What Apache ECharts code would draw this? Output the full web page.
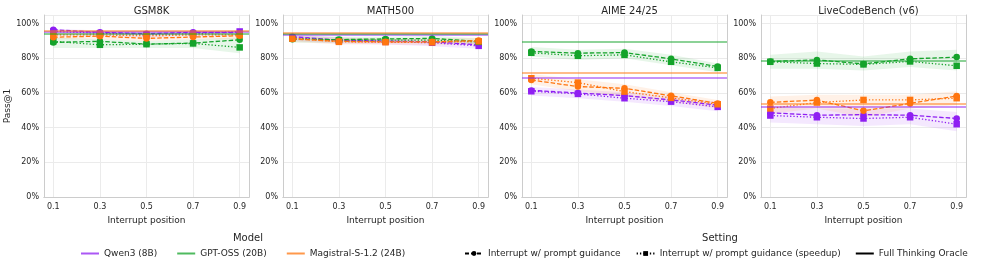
<!DOCTYPE html>
<html><head><meta charset="utf-8">
<script src="https://cdn.jsdelivr.net/npm/echarts@6/dist/echarts.min.js"></script>
<style>html,body{margin:0;padding:0;background:#fff}#c{width:997px;height:263px}</style>
</head><body><div id="c"></div>
<script>
const xs = [0.1, 0.3, 0.5, 0.7, 0.9];
const panels = ['GSM8K', 'MATH500', 'AIME 24/25', 'LiveCodeBench (v6)'];
const models = ['Qwen3 (8B)', 'GPT-OSS (20B)', 'Magistral-S-1.2 (24B)'];
const settings = ['Interrupt w/ prompt guidance', 'Interrupt w/ prompt guidance (speedup)', 'Full Thinking Oracle'];
const yTicks = [0, 20, 40, 60, 80, 100];

// values per panel: GSM8K, MATH500, AIME, LCB
const qwenDash  = [[96.5,95.0,94.2,95.0,94.8],[92.5,90.5,90.0,89.5,87.8],[61.5,60.0,58.5,56.0,53.0],[48.6,47.2,47.5,47.2,45.3]];
const qwenSpeed = [[95.5,94.5,93.8,94.2,95.5],[92.0,90.0,89.5,89.0,87.2],[61.0,59.5,57.0,55.0,52.0],[47.0,46.0,45.3,46.0,42.0]];
const qwenOracle = [95.3, 93.6, 68.9, 52.1];
const qwenLo = [[93,93,92,93,93],[90,88.5,88,87,85.5],[58.5,57,55,52.5,49.5],[43,42,41,42,38]];
const qwenHi = [[97,96,96,96,96],[94,92,91,91,89.5],[63.5,62,60.5,58,55],[52,51,51,51,49]];

const gptDash  = [[89.2,89.8,88.2,88.8,90.7],[91.0,90.8,91.2,91.5,89.8],[84.0,83.0,83.3,79.7,75.3],[78.2,79.1,76.8,79.7,80.7]];
const gptSpeed = [[89.8,87.8,88.2,88.6,86.3],[91.5,90.5,90.5,90.5,89.5],[83.2,81.5,82.0,78.0,74.5],[78.0,77.0,76.5,78.2,75.7]];
const gptOracle = [94.2, 94.0, 89.4, 78.7];
const gptLo = [[86,86,86,86,83],[89,89,89.5,89.5,88],[81,79,80,76,72],[74,74,73,75,73]];
const gptHi = [[92,91,90,91,92],[93,92.5,92.5,93,91.5],[86.5,85,85.5,82,77],[82,84,81,84,85]];

const magDash  = [[92.2,92.8,91.5,92.3,93.0],[91.2,89.8,89.5,89.5,90.3],[67.5,63.7,62.7,58.4,54.0],[54.6,55.9,49.7,54.0,58.3]];
const magSpeed = [[93.5,93.5,93.0,93.5,93.5],[91.5,89.5,89.3,89.2,89.8],[68.5,66.0,60.8,57.2,53.5],[51.1,54.5,56.0,56.0,57.0]];
const magOracle = [95.9, 94.6, 71.8, 53.6];
const magLo = [[91,91,90,91,91],[89.5,88,88,87.5,88],[65,61,58,55,51],[48,51,46,51,53]];
const magHi = [[95,95,94,95,95],[93,92,91.5,91.5,92],[71,68,65,60.5,56],[58,59,59,59,61]];

const colors = ['#8f1ff2', '#14a32a', '#ff750f'];
const modelData = [
  {dash: qwenDash, speed: qwenSpeed, oracle: qwenOracle, lo: qwenLo, hi: qwenHi},
  {dash: gptDash, speed: gptSpeed, oracle: gptOracle, lo: gptLo, hi: gptHi},
  {dash: magDash, speed: magSpeed, oracle: magOracle, lo: magLo, hi: magHi}
];

const FONT = 'DejaVu Sans';
const TXT = '#262626';
const grids = [], xAxes = [], yAxes = [], series = [], titles = [];
const gl = [44, 283, 522, 761], gw = 205;
panels.forEach((p, i) => {
  grids.push({left: gl[i], top: 15, width: gw, height: 182, show: false});
  titles.push({text: p, left: gl[i] + gw / 2, top: 1, textAlign: 'center',
    textStyle: {fontFamily: FONT, fontSize: 10, fontWeight: 'normal', color: TXT}});
  xAxes.push({type: 'value', gridIndex: i, min: 0.06, max: 0.94,
    name: 'Interrupt position', nameLocation: 'middle', nameGap: 16,
    nameTextStyle: {fontFamily: FONT, fontSize: 9, color: TXT},
    axisLine: {show: true, onZero: false, lineStyle: {color: '#cccccc', width: 1}},
    axisTick: {show: false, customValues: xs},
    axisLabel: {customValues: xs, fontFamily: FONT, fontSize: 8, color: TXT, margin: 6, formatter: v => v.toFixed(1)},
    splitLine: {show: true, lineStyle: {color: '#ebebeb', width: 1}}});
  yAxes.push({type: 'value', gridIndex: i, min: 0, max: 105, interval: 20,
    name: i === 0 ? 'Pass@1' : '', nameLocation: 'middle', nameGap: 30,
    nameTextStyle: {fontFamily: FONT, fontSize: 9, color: TXT},
    axisLine: {show: true, lineStyle: {color: '#cccccc', width: 1}},
    axisTick: {show: false},
    axisLabel: {fontFamily: FONT, fontSize: 8, color: TXT, margin: 5,
      formatter: v => yTicks.includes(v) ? v + '%' : ''},
    splitLine: {show: true, lineStyle: {color: '#ebebeb', width: 1}}});
  // frame top/right via extra axes
  xAxes.push({type: 'value', gridIndex: i, position: 'top', min: 0, max: 1,
    axisLine: {show: true, lineStyle: {color: '#cccccc'}}, axisTick: {show: false}, axisLabel: {show: false}, splitLine: {show: false}});
  yAxes.push({type: 'value', gridIndex: i, position: 'right', min: 0, max: 1,
    axisLine: {show: true, lineStyle: {color: '#cccccc'}}, axisTick: {show: false}, axisLabel: {show: false}, splitLine: {show: false}});

  const xi = i * 2, yi = i * 2;
  modelData.forEach((m, k) => {
    const c = colors[k];
    const lo = m.lo[i], hi = m.hi[i];
    series.push({type: 'custom', xAxisIndex: xi, yAxisIndex: yi, silent: true, z: 1,
      data: [[xs[0], lo[0]]],
      renderItem: (params, api) => {
        const top = xs.map((x, j) => api.coord([x, hi[j]]));
        const bot = xs.map((x, j) => api.coord([x, lo[j]])).reverse();
        return {type: 'polygon', shape: {points: top.concat(bot)}, style: {fill: c, opacity: 0.1}};
      }});
    series.push({type: 'line', xAxisIndex: xi, yAxisIndex: yi, symbol: 'none', silent: true, data: [],
      markLine: {silent: true, symbol: 'none', label: {show: false},
        lineStyle: {color: c, type: 'solid', width: 1.5, opacity: 0.65},
        data: [{yAxis: m.oracle[i]}]}, z: 2});
    series.push({type: 'line', xAxisIndex: xi, yAxisIndex: yi, symbol: 'circle', symbolSize: 6.5,
      itemStyle: {color: c}, lineStyle: {color: c, width: 1.3, type: [4.5, 2]},
      data: xs.map((x, j) => [x, m.dash[i][j]]), z: 3});
    series.push({type: 'line', xAxisIndex: xi, yAxisIndex: yi, symbol: 'rect', symbolSize: 6.5,
      itemStyle: {color: c}, lineStyle: {color: c, width: 1.3, type: [1.3, 2]},
      data: xs.map((x, j) => [x, m.speed[i][j]]), z: 3});
  });
});

// legend dummy series
models.forEach((name, k) => {
  series.push({name: name, type: 'line', xAxisIndex: 0, yAxisIndex: 0, symbol: 'none', data: [],
    itemStyle: {color: colors[k]}, lineStyle: {color: colors[k], width: 2, opacity: 0.75}});
});
series.push({name: settings[0], type: 'line', xAxisIndex: 0, yAxisIndex: 0, symbol: 'circle', data: [],
  itemStyle: {color: '#000'}, lineStyle: {color: '#000', width: 1.5, type: [4, 2]}});
series.push({name: settings[1], type: 'line', xAxisIndex: 0, yAxisIndex: 0, symbol: 'rect', data: [],
  itemStyle: {color: '#000'}, lineStyle: {color: '#000', width: 1.5, type: [1.3, 2]}});
series.push({name: settings[2], type: 'line', xAxisIndex: 0, yAxisIndex: 0, symbol: 'none', data: [],
  itemStyle: {color: '#000'}, lineStyle: {color: '#000', width: 1.5}});

titles.push({text: 'Model', left: 243, top: 228, textAlign: 'center',
  textStyle: {fontFamily: FONT, fontSize: 10, fontWeight: 'normal', color: TXT}});
titles.push({text: 'Setting', left: 715, top: 228, textAlign: 'center',
  textStyle: {fontFamily: FONT, fontSize: 10, fontWeight: 'normal', color: TXT}});

const lineIcon = 'path://M0,0h18v2h-18z';
const legendText = {fontFamily: FONT, fontSize: 9, color: TXT};
const option = {
  animation: false,
  title: titles,
  grid: grids, xAxis: xAxes, yAxis: yAxes, series: series,
  legend: [
    {data: models.map((n, k) => ({name: n, icon: lineIcon, itemStyle: {color: colors[k], opacity: 0.75}})),
      left: 76, top: 244, itemWidth: 18, itemHeight: 6, itemGap: 20, textStyle: legendText, selectedMode: false},
    {data: [settings[0], settings[1], {name: settings[2], icon: lineIcon, itemStyle: {color: '#000'}}],
      left: 459, top: 244, itemWidth: 18, itemHeight: 6, itemGap: 15, textStyle: legendText, selectedMode: false}
  ]
};
echarts.init(document.getElementById('c')).setOption(option);
</script></body></html>
